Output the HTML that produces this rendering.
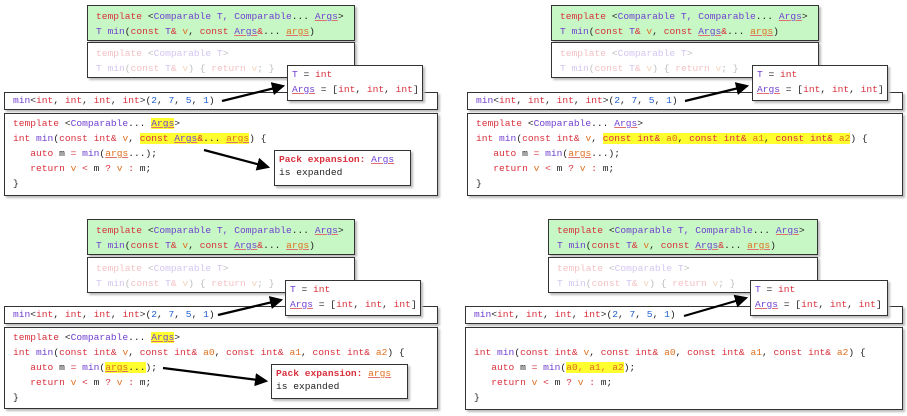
<!DOCTYPE html><html><head><meta charset="utf-8"><style>
body{margin:0;width:907px;height:416px;background:#fff;position:relative;overflow:hidden;font-family:"Liberation Mono",monospace;font-size:9.6px;}
.b{position:absolute;border:1px solid #333;box-shadow:2px 2px 2px #bbb;background:#fff;box-sizing:border-box;line-height:15px;white-space:pre;padding:3px 8px;}
.z{z-index:3}
.g{background:#c6f7c4;}
.f{opacity:.3}
.k{color:#d8303c}.p{color:#7040d0}.o{color:#e07020}.n{color:#2060d0}.t{color:#222}
.u{text-decoration:underline;text-decoration-color:#e07070}
.h{background:#ffff30}
.pk{font-weight:bold;color:#d8303c}
svg{z-index:5}
</style></head><body>

<!-- panel TL -->
<div class="b g" style="left:87px;top:5px;width:268px;height:36px"><span class="k">template</span> <span class="t">&lt;</span><span class="p">Comparable T, Comparable</span><span class="t">...</span> <span class="p u">Args</span><span class="t">&gt;</span>
<span class="p">T min</span><span class="t">(</span><span class="k">const</span> <span class="p">T</span><span class="k">&amp;</span> <span class="o">v</span><span class="t">, </span><span class="k">const</span> <span class="p u">Args</span><span class="k">&amp;</span><span class="t">...</span> <span class="o u">args</span><span class="t">)</span></div>
<div class="b" style="left:87px;top:42px;width:268px;height:36px"><span class="f"><span class="k">template</span> <span class="t">&lt;</span><span class="p">Comparable T</span><span class="t">&gt;</span>
<span class="p">T min</span><span class="t">(</span><span class="k">const</span> <span class="p">T</span><span class="k">&amp;</span> <span class="o">v</span><span class="t">) { </span><span class="k">return</span> <span class="o">v</span><span class="t">; }</span></span></div>
<div class="b" style="left:4px;top:92px;width:434px;height:18px;padding-top:0"><span class="p">min</span><span class="t">&lt;</span><span class="k">int</span><span class="t">, </span><span class="k">int</span><span class="t">, </span><span class="k">int</span><span class="t">, </span><span class="k">int</span><span class="t">&gt;(</span><span class="n">2</span><span class="t">, </span><span class="n">7</span><span class="t">, </span><span class="n">5</span><span class="t">, </span><span class="n">1</span><span class="t">)</span></div>
<div class="b z" style="left:287px;top:65px;width:136px;height:36px;padding:1px 4px"><span class="p">T</span><span class="t"> = </span><span class="k">int</span>
<span class="p u">Args</span><span class="t"> = [</span><span class="k">int</span><span class="t">, </span><span class="k">int</span><span class="t">, </span><span class="k">int</span><span class="t">]</span></div>
<div class="b" style="left:4px;top:113px;width:434px;height:83px;padding:2px 8px"><span class="k">template</span> <span class="t">&lt;</span><span class="p">Comparable</span><span class="t">...</span> <span class="p u h">Args</span><span class="t">&gt;</span>
<span class="k">int</span> <span class="p">min</span><span class="t">(</span><span class="k">const int&amp;</span> <span class="o">v</span><span class="t">, </span><span class="h"><span class="k">const</span> <span class="p u">Args</span><span class="k">&amp;</span><span class="t">...</span> <span class="o u">args</span></span><span class="t">) {</span>
   <span class="k">auto</span> <span class="t">m</span> <span class="k">=</span> <span class="p">min</span><span class="t">(</span><span class="o u">args</span><span class="t">...);</span>
   <span class="k">return</span> <span class="o">v</span> <span class="k">&lt;</span> <span class="t">m</span> <span class="k">?</span> <span class="o">v</span> <span class="k">:</span> <span class="t">m;</span>
<span class="t">}</span></div>
<div class="b z" style="left:274px;top:150px;width:137px;height:36px;padding:2px 4px;line-height:13px"><span class="pk">Pack expansion:</span> <span class="p u">Args</span>
<span class="t">is expanded</span></div>

<!-- panel TR -->
<div class="b g" style="left:551px;top:5px;width:268px;height:36px"><span class="k">template</span> <span class="t">&lt;</span><span class="p">Comparable T, Comparable</span><span class="t">...</span> <span class="p u">Args</span><span class="t">&gt;</span>
<span class="p">T min</span><span class="t">(</span><span class="k">const</span> <span class="p">T</span><span class="k">&amp;</span> <span class="o">v</span><span class="t">, </span><span class="k">const</span> <span class="p u">Args</span><span class="k">&amp;</span><span class="t">...</span> <span class="o u">args</span><span class="t">)</span></div>
<div class="b" style="left:551px;top:42px;width:268px;height:36px"><span class="f"><span class="k">template</span> <span class="t">&lt;</span><span class="p">Comparable T</span><span class="t">&gt;</span>
<span class="p">T min</span><span class="t">(</span><span class="k">const</span> <span class="p">T</span><span class="k">&amp;</span> <span class="o">v</span><span class="t">) { </span><span class="k">return</span> <span class="o">v</span><span class="t">; }</span></span></div>
<div class="b" style="left:467px;top:92px;width:436px;height:18px;padding-top:0"><span class="p">min</span><span class="t">&lt;</span><span class="k">int</span><span class="t">, </span><span class="k">int</span><span class="t">, </span><span class="k">int</span><span class="t">, </span><span class="k">int</span><span class="t">&gt;(</span><span class="n">2</span><span class="t">, </span><span class="n">7</span><span class="t">, </span><span class="n">5</span><span class="t">, </span><span class="n">1</span><span class="t">)</span></div>
<div class="b z" style="left:752px;top:65px;width:136px;height:36px;padding:1px 4px"><span class="p">T</span><span class="t"> = </span><span class="k">int</span>
<span class="p u">Args</span><span class="t"> = [</span><span class="k">int</span><span class="t">, </span><span class="k">int</span><span class="t">, </span><span class="k">int</span><span class="t">]</span></div>
<div class="b" style="left:467px;top:113px;width:436px;height:83px;padding:2px 8px"><span class="k">template</span> <span class="t">&lt;</span><span class="p">Comparable</span><span class="t">...</span> <span class="p u">Args</span><span class="t">&gt;</span>
<span class="k">int</span> <span class="p">min</span><span class="t">(</span><span class="k">const int&amp;</span> <span class="o">v</span><span class="t">, </span><span class="h"><span class="k">const int&amp;</span> <span class="o">a0</span><span class="t">, </span><span class="k">const int&amp;</span> <span class="o">a1</span><span class="t">, </span><span class="k">const int&amp;</span> <span class="o">a2</span></span><span class="t">) {</span>
   <span class="k">auto</span> <span class="t">m</span> <span class="k">=</span> <span class="p">min</span><span class="t">(</span><span class="o u">args</span><span class="t">...);</span>
   <span class="k">return</span> <span class="o">v</span> <span class="k">&lt;</span> <span class="t">m</span> <span class="k">?</span> <span class="o">v</span> <span class="k">:</span> <span class="t">m;</span>
<span class="t">}</span></div>

<!-- panel BL -->
<div class="b g" style="left:87px;top:219px;width:268px;height:36px"><span class="k">template</span> <span class="t">&lt;</span><span class="p">Comparable T, Comparable</span><span class="t">...</span> <span class="p u">Args</span><span class="t">&gt;</span>
<span class="p">T min</span><span class="t">(</span><span class="k">const</span> <span class="p">T</span><span class="k">&amp;</span> <span class="o">v</span><span class="t">, </span><span class="k">const</span> <span class="p u">Args</span><span class="k">&amp;</span><span class="t">...</span> <span class="o u">args</span><span class="t">)</span></div>
<div class="b" style="left:87px;top:257px;width:268px;height:36px"><span class="f"><span class="k">template</span> <span class="t">&lt;</span><span class="p">Comparable T</span><span class="t">&gt;</span>
<span class="p">T min</span><span class="t">(</span><span class="k">const</span> <span class="p">T</span><span class="k">&amp;</span> <span class="o">v</span><span class="t">) { </span><span class="k">return</span> <span class="o">v</span><span class="t">; }</span></span></div>
<div class="b" style="left:4px;top:306px;width:434px;height:18px;padding-top:0"><span class="p">min</span><span class="t">&lt;</span><span class="k">int</span><span class="t">, </span><span class="k">int</span><span class="t">, </span><span class="k">int</span><span class="t">, </span><span class="k">int</span><span class="t">&gt;(</span><span class="n">2</span><span class="t">, </span><span class="n">7</span><span class="t">, </span><span class="n">5</span><span class="t">, </span><span class="n">1</span><span class="t">)</span></div>
<div class="b z" style="left:285px;top:280px;width:136px;height:36px;padding:1px 4px"><span class="p">T</span><span class="t"> = </span><span class="k">int</span>
<span class="p u">Args</span><span class="t"> = [</span><span class="k">int</span><span class="t">, </span><span class="k">int</span><span class="t">, </span><span class="k">int</span><span class="t">]</span></div>
<div class="b" style="left:4px;top:327px;width:434px;height:82px;padding:2px 8px"><span class="k">template</span> <span class="t">&lt;</span><span class="p">Comparable</span><span class="t">...</span> <span class="p u h">Args</span><span class="t">&gt;</span>
<span class="k">int</span> <span class="p">min</span><span class="t">(</span><span class="k">const int&amp;</span> <span class="o">v</span><span class="t">, </span><span class="k">const int&amp;</span> <span class="o">a0</span><span class="t">, </span><span class="k">const int&amp;</span> <span class="o">a1</span><span class="t">, </span><span class="k">const int&amp;</span> <span class="o">a2</span><span class="t">) {</span>
   <span class="k">auto</span> <span class="t">m</span> <span class="k">=</span> <span class="p">min</span><span class="t">(</span><span class="h"><span class="o u">args</span><span class="t">...</span></span><span class="t">);</span>
   <span class="k">return</span> <span class="o">v</span> <span class="k">&lt;</span> <span class="t">m</span> <span class="k">?</span> <span class="o">v</span> <span class="k">:</span> <span class="t">m;</span>
<span class="t">}</span></div>
<div class="b z" style="left:271px;top:364px;width:137px;height:35px;padding:2px 4px;line-height:13px"><span class="pk">Pack expansion:</span> <span class="o u">args</span>
<span class="t">is expanded</span></div>

<!-- panel BR -->
<div class="b g" style="left:548px;top:219px;width:270px;height:36px"><span class="k">template</span> <span class="t">&lt;</span><span class="p">Comparable T, Comparable</span><span class="t">...</span> <span class="p u">Args</span><span class="t">&gt;</span>
<span class="p">T min</span><span class="t">(</span><span class="k">const</span> <span class="p">T</span><span class="k">&amp;</span> <span class="o">v</span><span class="t">, </span><span class="k">const</span> <span class="p u">Args</span><span class="k">&amp;</span><span class="t">...</span> <span class="o u">args</span><span class="t">)</span></div>
<div class="b" style="left:548px;top:257px;width:270px;height:36px"><span class="f"><span class="k">template</span> <span class="t">&lt;</span><span class="p">Comparable T</span><span class="t">&gt;</span>
<span class="p">T min</span><span class="t">(</span><span class="k">const</span> <span class="p">T</span><span class="k">&amp;</span> <span class="o">v</span><span class="t">) { </span><span class="k">return</span> <span class="o">v</span><span class="t">; }</span></span></div>
<div class="b" style="left:465px;top:306px;width:438px;height:18px;padding-top:0"><span class="p">min</span><span class="t">&lt;</span><span class="k">int</span><span class="t">, </span><span class="k">int</span><span class="t">, </span><span class="k">int</span><span class="t">, </span><span class="k">int</span><span class="t">&gt;(</span><span class="n">2</span><span class="t">, </span><span class="n">7</span><span class="t">, </span><span class="n">5</span><span class="t">, </span><span class="n">1</span><span class="t">)</span></div>
<div class="b z" style="left:750px;top:280px;width:138px;height:36px;padding:1px 4px"><span class="p">T</span><span class="t"> = </span><span class="k">int</span>
<span class="p u">Args</span><span class="t"> = [</span><span class="k">int</span><span class="t">, </span><span class="k">int</span><span class="t">, </span><span class="k">int</span><span class="t">]</span></div>
<div class="b" style="left:465px;top:327px;width:438px;height:83px;padding:2px 8px"> 
<span class="k">int</span> <span class="p">min</span><span class="t">(</span><span class="k">const int&amp;</span> <span class="o">v</span><span class="t">, </span><span class="k">const int&amp;</span> <span class="o">a0</span><span class="t">, </span><span class="k">const int&amp;</span> <span class="o">a1</span><span class="t">, </span><span class="k">const int&amp;</span> <span class="o">a2</span><span class="t">) {</span>
   <span class="k">auto</span> <span class="t">m</span> <span class="k">=</span> <span class="p">min</span><span class="t">(</span><span class="h o">a0, a1, a2</span><span class="t">);</span>
   <span class="k">return</span> <span class="o">v</span> <span class="k">&lt;</span> <span class="t">m</span> <span class="k">?</span> <span class="o">v</span> <span class="k">:</span> <span class="t">m;</span>
<span class="t">}</span></div>

<svg width="907" height="416" style="position:absolute;left:0;top:0" xmlns="http://www.w3.org/2000/svg">
<defs><marker id="a" markerWidth="6" markerHeight="6" refX="5" refY="3" orient="auto" markerUnits="strokeWidth"><path d="M0,0 L6,3 L0,6 z" fill="#000"/></marker></defs>
<g stroke="#000" stroke-width="2.2" marker-end="url(#a)">
<line x1="222" y1="101" x2="283" y2="86"/>
<line x1="204" y1="150" x2="268" y2="167"/>
<line x1="685" y1="101" x2="747" y2="86"/>
<line x1="218" y1="315" x2="281" y2="300"/>
<line x1="163" y1="368" x2="266" y2="381"/>
<line x1="684" y1="316" x2="746" y2="298"/>
</g></svg>
</body></html>
